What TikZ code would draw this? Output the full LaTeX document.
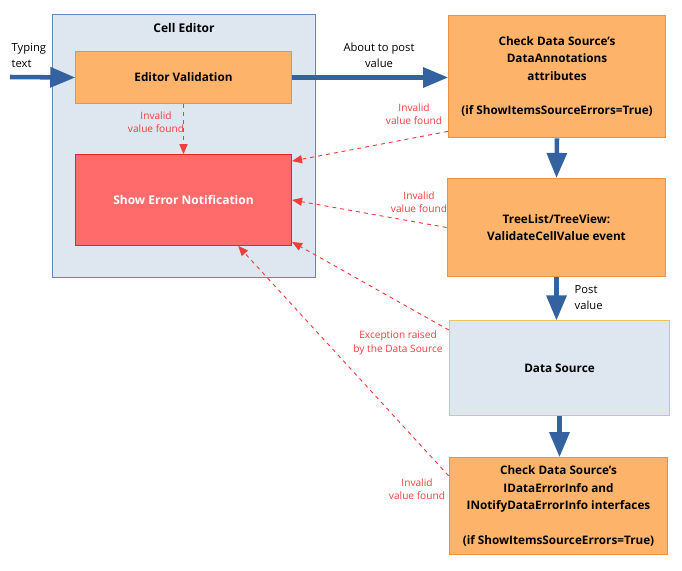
\documentclass[tikz,border=0pt]{standalone}
\usepackage{fontspec}
\setmainfont{Open Sans}
\usetikzlibrary{shapes,arrows}

\definecolor{boxorange}{RGB}{253,180,106}
\definecolor{edgeorange}{RGB}{240,145,60}
\definecolor{paneblue}{RGB}{222,230,239}
\definecolor{paneedge}{RGB}{100,135,185}
\definecolor{flowblue}{RGB}{52,97,160}
\definecolor{errred}{RGB}{255,107,107}
\definecolor{erredge}{RGB}{235,35,35}
\definecolor{warnred}{RGB}{245,60,60}
\definecolor{srcedge}{RGB}{240,195,90}

\begin{document}
\begin{tikzpicture}[x=0.75pt, y=-0.75pt, >=triangle 45,
  stage/.style={draw=edgeorange, fill=boxorange, line width=0.9pt, inner sep=0pt,
    align=center, font=\fontsize{8.8}{13}\selectfont\bfseries},
  flow/.style={->, draw=flowblue, line width=3.4pt},
  invalid/.style={->, draw=warnred, dashed, line width=0.7pt},
  note/.style={text=warnred, align=center, font=\fontsize{7.6}{10}\selectfont},
  plain/.style={align=center, font=\fontsize{8.4}{12}\selectfont}]

\useasboundingbox (0,0) rectangle (682,571);

% Cell editor pane
\node (celled) at (184,146) [draw=paneedge, fill=paneblue, line width=0.9pt,
  minimum width=197pt, minimum height=197pt, inner sep=0pt] {};
\node (celltitle) at (184,28) [font=\fontsize{9}{11}\selectfont\bfseries] {Cell Editor};

\node (editval) at (183.5,77.5) [stage, minimum width=162pt, minimum height=39pt] {Editor Validation};
\node (showerr) at (183.5,200) [draw=erredge, fill=errred, line width=0.9pt, inner sep=0pt,
  minimum width=162pt, minimum height=68pt, text=white,
  font=\fontsize{9}{11}\selectfont\bfseries] {Show Error Notification};

% right column
\node (checkann) at (557,76.5) [stage, minimum width=163pt, minimum height=92pt]
  {Check Data Source's\\DataAnnotations\\attributes\\[13pt](if ShowItemsSourceErrors=True)};
\node (treelist) at (556.5,227.5) [stage, minimum width=164pt, minimum height=74pt]
  {TreeList/TreeView:\\ValidateCellValue event};
\node (datasrc) at (559.5,368) [stage, draw=srcedge, fill=paneblue, minimum width=165pt,
  minimum height=71pt] {Data Source};
\node (checkinfo) at (558.5,506) [stage, minimum width=164pt, minimum height=73pt]
  {Check Data Source's\\IDataErrorInfo and\\INotifyDataErrorInfo interfaces\\[13pt](if ShowItemsSourceErrors=True)};

% main flow
\coordinate (typein) at (10,77);
\draw[flow] (typein) -- (editval.west);
\draw[flow] (editval.east) -- (editval.east -| checkann.west);
\draw[flow] (checkann.south) -- (treelist.north);
\draw[flow] (treelist.south) -- (treelist.south |- datasrc.north);
\draw[flow] (datasrc.south) -- (datasrc.south |- checkinfo.north);

\node (typing) at (7,39) [plain, anchor=north west, align=left] {Typing\\text};
\node (post) at (379,55) [plain] {About to post\\value};
\node (postval) at (570,298) [plain, anchor=west, align=left] {Post\\value};

% error paths
\draw[invalid] (editval.south) -- (showerr.north);
\draw[invalid] ([yshift=5.25pt]checkann.south west) -- ([yshift=-5.25pt]showerr.north east);
\draw[invalid] (treelist.west) -- (showerr.east);
\draw[invalid] ([yshift=-7.5pt]datasrc.north west) -- ([yshift=3pt]showerr.south east);
\draw[invalid] ([yshift=-14.25pt]checkinfo.north west) -- ([xshift=41pt]showerr.south);

\node (n1) at (156,122) [note] {Invalid\\value found};
\node (n2) at (414,114) [note] {Invalid\\value found};
\node (n3) at (419,202) [note] {Invalid\\value found};
\node (n4) at (398,343) [note] {Exception raised\\by the Data Source};
\node (n5) at (417,489) [note] {Invalid\\value found};

\end{tikzpicture}
\end{document}
